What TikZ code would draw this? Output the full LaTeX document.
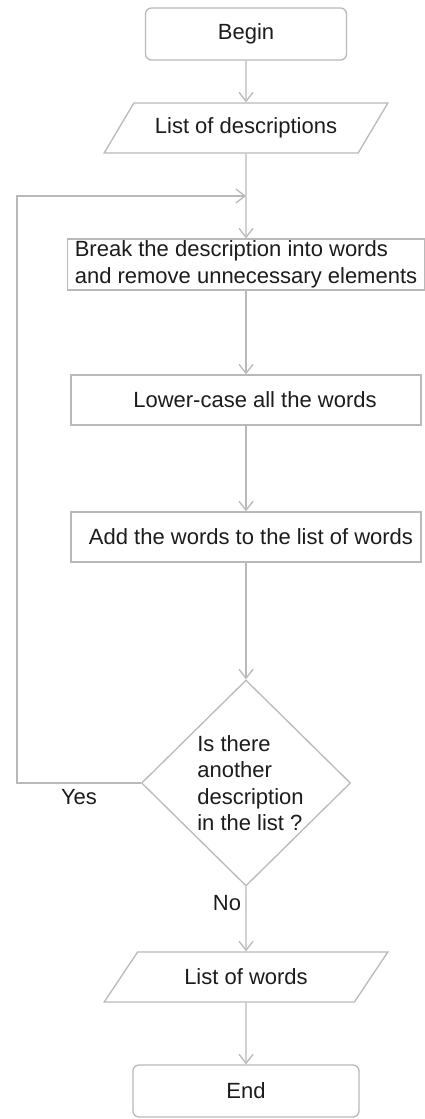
\documentclass[tikz,border=0pt]{standalone}
\usepackage{fontspec}
\setmainfont{Liberation Sans}
\usetikzlibrary{shapes.geometric,arrows.meta}
\definecolor{edgegray}{RGB}{185,185,185}
\definecolor{inkgray}{RGB}{28,28,28}
\begin{document}
\begin{tikzpicture}[x=1pt,y=-1pt,
  font=\fontsize{22}{26.5}\selectfont,
  every node/.style={text=inkgray},
  base/.style={draw=edgegray,line width=1.3pt,inner sep=0pt,fill=white},
  terminal/.style={base,rectangle,rounded corners=6pt,minimum height=52pt},
  process/.style={base,rectangle,minimum height=50pt},
  io/.style={base,trapezium,trapezium left angle=40.3,trapezium right angle=139.7,
    trapezium stretches=true,minimum width=284pt,minimum height=50pt},
  decision/.style={base,diamond,minimum width=209pt,minimum height=206pt},
  flow/.style={draw=edgegray,line width=1.3pt,-{Straight Barb[length=9pt,width=14pt]}},
  tag/.style={inner sep=0pt}]
  \useasboundingbox (0,0) rectangle (425,1119);

  % nodes of the flow
  \node[terminal,minimum width=201pt] (begin) at (246,34) {Begin};
  \node[io] (descs) at (246,128) {List of descriptions};
  \node[process,minimum width=357pt,minimum height=51pt,align=left] (split) at (246,264.5)
    {Break the description into words\\and remove unnecessary elements};
  \node[process,minimum width=350pt] (lower) at (246,400) {\hspace{18pt}Lower-case all the words};
  \node[process,minimum width=350pt] (add) at (246,537) {\hspace{10pt}Add the words to the list of words};
  \node[decision,label={[tag,align=left,xshift=4.5pt]center:Is there\\another\\description\\in the list ?}]
    (more) at (246,783) {};
  \node[io] (words) at (246,977) {List of words};
  \node[terminal,minimum width=226pt] (end) at (246,1091) {End};

  % loop-back corner and the point where it rejoins
  \coordinate (corner) at (17,196);
  \coordinate (join) at (246,196);

  % connectors
  \draw[flow] (begin.south) -- (descs.north);
  \draw[flow] (descs.south) -- (split.north);
  \draw[flow] (split.south) -- (lower.north);
  \draw[flow] (lower.south) -- (add.north);
  \draw[flow] (add.south) -- (more.north);
  \draw[flow] (more.south) -- (words.north);
  \draw[flow] (words.south) -- (end.north);
  \draw[flow] (more.west) -- (more.west -| corner) -- (corner) -- (join);

  % branch labels
  \node[tag] (yes) at (79,797) {Yes};
  \node[tag] (no) at (227,903) {No};
\end{tikzpicture}
\end{document}
